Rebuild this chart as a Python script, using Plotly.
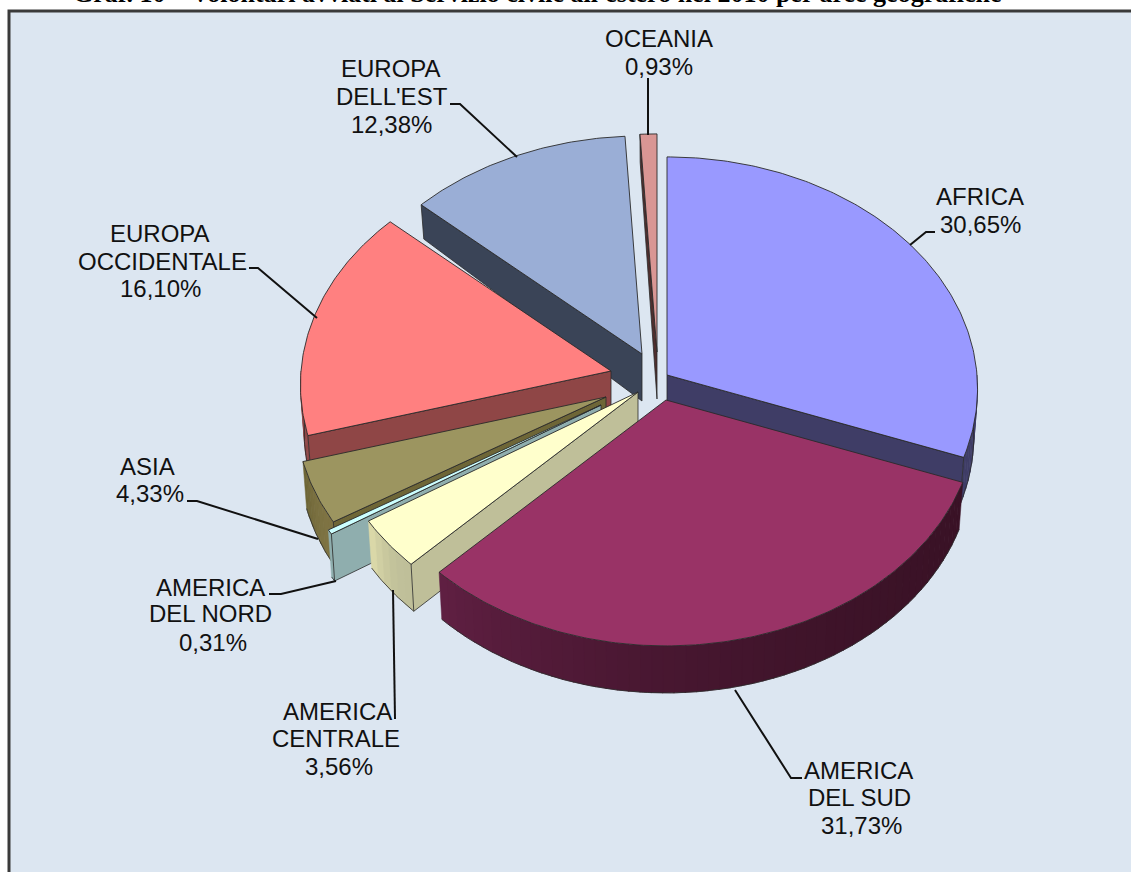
import math
import plotly.graph_objects as go

# --- data ---
regions = ["AFRICA", "AMERICA DEL SUD", "AMERICA CENTRALE", "AMERICA DEL NORD", "ASIA",
           "EUROPA OCCIDENTALE", "EUROPA DELL'EST", "OCEANIA"]
shares = [30.65, 31.73, 3.56, 0.31, 4.33, 16.10, 12.38, 0.93]
title_text = "Graf. 10 – Volontari avviati al Servizio civile all'estero nel 2010 per aree geografiche"

# --- exploded apex of each slice (px on the picture) ---
apex_x = [667, 666, 638, 601, 606, 611, 642, 657]
apex_y = [375, 400, 392, 405, 397, 371, 354, 352]

# --- styles ---
top_col = ["#9999FF", "#993366", "#FFFFCC", "#CCFFFF", "#9C9560", "#FF8080", "#9AAED6", "#D99694"]
wall_col = ["#3F3D66", "#3F1329", "#BFBF99", "#8FAEAE", "#6E6637", "#8F4646", "#3A4457", "#4F2E2E"]
rim_a = ["#3F3D66", "#3A1226", "#BFBF99", "#8FAEAE", "#7E7343", "#8F4646", "#3A4457", "#4F2E2E"]
rim_b = ["#3F3D66", "#5F1F42", "#DAD8A8", "#8FAEAE", "#6E6637", "#8F4646", "#3A4457", "#4F2E2E"]
edge = "#2A2A2A"
RX, RY, K = 310, 232, 0.06
DEPTH, BACK_LOSS, CONVERGE = 47, 19, 0.012
draw_order = [7, 6, 5, 0, 4, 3, 2, 1]

label_lines = [
    ("OCEANIA", 659, 38), ("0,93%", 659, 66),
    ("EUROPA", 391, 68), ("DELL'EST", 392, 96), ("12,38%", 391, 124),
    ("AFRICA", 980, 196), ("30,65%", 980, 224),
    ("EUROPA", 160, 233), ("OCCIDENTALE", 162, 261), ("16,10%", 160, 288),
    ("ASIA", 147, 466), ("4,33%", 150, 493),
    ("AMERICA", 210, 587), ("DEL NORD", 210, 613), ("0,31%", 213, 642),
    ("AMERICA", 337, 711), ("CENTRALE", 336, 738), ("3,56%", 339, 766),
    ("AMERICA", 858, 770), ("DEL SUD", 859, 797), ("31,73%", 861, 825),
]
leaders = [
    ([648, 648], [78, 135]),
    ([450, 460, 517], [104, 104, 157]),
    ([935, 926, 910], [232, 232, 245]),
    ([249, 258, 317], [268, 268, 318]),
    ([187, 197, 318], [501, 501, 539]),
    ([269, 281, 336], [594, 594, 581]),
    ([395, 393], [719, 590]),
    ([802, 791, 735], [778, 778, 690]),
]

fig = go.Figure()


def top_pt(i, deg, r=1.0):
    t = math.radians(deg)
    s, c = math.sin(t), math.cos(t)
    f = 1 + K * (-c) * r
    return apex_x[i] + r * RX * s * f, apex_y[i] - r * RY * c * f


def bot_pt(i, deg, r=1.0):
    x, y = top_pt(i, deg, r)
    c = math.cos(math.radians(deg))
    d = DEPTH - BACK_LOSS * max(0.0, c) * r
    return apex_x[i] + (x - apex_x[i]) * (1 - CONVERGE), y + d


def poly(pts, fill, line=edge, width=0.8):
    xs = [p[0] for p in pts] + [pts[0][0]]
    ys = [p[1] for p in pts] + [pts[0][1]]
    fig.add_trace(go.Scatter(x=xs, y=ys, mode="lines", fill="toself", fillcolor=fill,
                             line=dict(color=line, width=width), hoverinfo="skip"))


def arc(a, b, step=1.0):
    n = max(2, int(abs(b - a) / step) + 1)
    return [a + (b - a) * j / (n - 1) for j in range(n)]


def mix(c0, c1, t):
    v0 = [int(c0[k:k + 2], 16) for k in (1, 3, 5)]
    v1 = [int(c1[k:k + 2], 16) for k in (1, 3, 5)]
    return "#%02X%02X%02X" % tuple(round(p + (q - p) * t) for p, q in zip(v0, v1))


def signed_area(pts):
    return sum(pts[j][0] * pts[(j + 1) % len(pts)][1] - pts[(j + 1) % len(pts)][0] * pts[j][1]
               for j in range(len(pts)))


edges_deg = [0.0]
for v in shares:
    edges_deg.append(edges_deg[-1] + v * 3.6 * 100 / sum(shares))

for i in draw_order:
    a, b = edges_deg[i], edges_deg[i + 1]

    def wall(deg):
        return [top_pt(i, deg, 0), top_pt(i, deg), bot_pt(i, deg), bot_pt(i, deg, 0)]

    # rim, front-facing part only
    lo, hi = max(a, 90.0), min(b, 270.0)
    if hi > lo:
        n = max(1, int((hi - lo) / 2))
        for j in range(n):
            s0, s1 = lo + (hi - lo) * j / n, lo + (hi - lo) * (j + 1) / n
            col = mix(rim_a[i], rim_b[i], (j / max(1, n - 1)) ** 2)
            degs = arc(s0, s1 + 0.2 if j < n - 1 else s1, 0.5)
            pts = [top_pt(i, d) for d in degs] + [bot_pt(i, d) for d in reversed(degs)]
            poly(pts, col, line=col, width=0.5)
        degs = arc(lo, hi, 0.7)
        outline = [bot_pt(i, d) for d in degs]
        fig.add_trace(go.Scatter(x=[p[0] for p in outline], y=[p[1] for p in outline], mode="lines",
                                 line=dict(color=edge, width=0.8), hoverinfo="skip"))

    # radial walls, with back-face culling
    w_start, w_end = wall(a), wall(b)
    if signed_area(w_start) < 0:
        poly(w_start, wall_col[i])
    if signed_area(w_end) > 0:
        poly(w_end, wall_col[i])

    # top face
    poly([top_pt(i, a, 0)] + [top_pt(i, d) for d in arc(a, b, 0.7)], top_col[i], width=0.9)

for lx, ly in leaders:
    fig.add_trace(go.Scatter(x=lx, y=ly, mode="lines", line=dict(color="#111111", width=2),
                             hoverinfo="skip"))

annotations = [dict(x=x, y=y, text=t, showarrow=False, xanchor="center", yanchor="middle",
                    font=dict(family="Liberation Sans", size=24, color="#111111"))
               for t, x, y in label_lines]
annotations.append(dict(x=537, y=1, yshift=8, text="<b>%s</b>" % title_text, showarrow=False,
                        xanchor="center", yanchor="middle",
                        font=dict(family="Liberation Serif", size=26, color="#000000")))

fig.update_layout(
    width=1131, height=872, margin=dict(l=0, r=0, t=0, b=0), showlegend=False,
    paper_bgcolor="#FFFFFF", plot_bgcolor="#FFFFFF",
    xaxis=dict(range=[0, 1131], visible=False, fixedrange=True),
    yaxis=dict(range=[872, 0], visible=False, fixedrange=True),
    annotations=annotations,
    shapes=[dict(type="rect", xref="x", yref="y", x0=9, y0=11, x1=1150, y1=900, layer="below",
                 fillcolor="#DCE6F1", line=dict(color="#3A3A3A", width=3))],
)
fig.write_html("out.html", post_script="document.body.style.margin='0';document.body.style.overflow='hidden';",
               config={"displayModeBar": False})
